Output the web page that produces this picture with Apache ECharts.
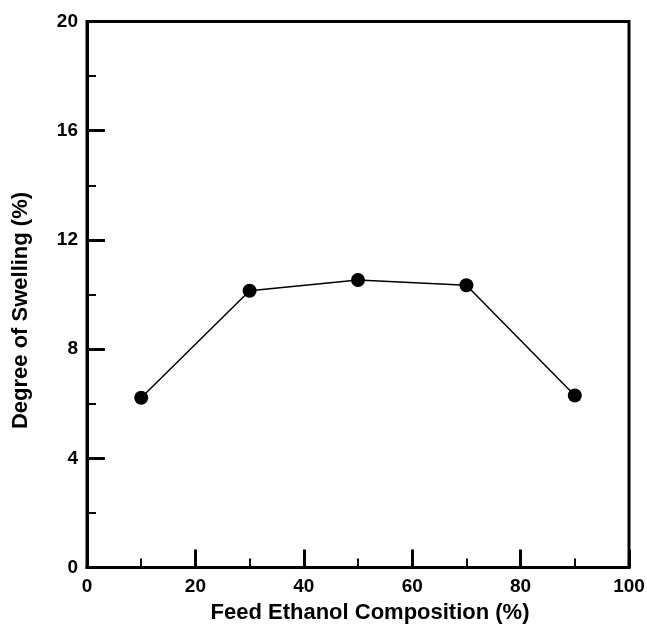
<!DOCTYPE html>
<html>
<head>
<meta charset="utf-8">
<script src="https://cdn.jsdelivr.net/npm/echarts@6/dist/echarts.min.js"></script>
<style>
html,body{margin:0;padding:0;background:#fff;}
#c{width:647px;height:627px;}
</style>
</head>
<body>
<div id="c"></div>
<script>
const feedEthanol = [10, 30, 50, 70, 90];
const swelling = [6.22, 10.14, 10.53, 10.34, 6.3];
const xTitle = 'Feed Ethanol Composition (%)';
const yTitle = 'Degree of Swelling (%)';

const chart = echarts.init(document.getElementById('c'), null, {renderer: 'canvas'});
const font = 'Liberation Sans, Arial, sans-serif';
const axisCommon = {
  axisLine: {show: true, onZero: false, lineStyle: {color: '#000', width: 3}},
  axisTick: {show: true, inside: true, length: 18, lineStyle: {color: '#000', width: 3}},
  minorTick: {show: true, splitNumber: 2, length: 9, lineStyle: {color: '#000', width: 2}},
  splitLine: {show: false},
  axisLabel: {color: '#000', fontFamily: font, fontWeight: 'bold', fontSize: 19}
};
chart.setOption({
  animation: false,
  backgroundColor: '#fff',
  grid: {left: 87, right: 18, top: 21.5, bottom: 59.5, show: true, borderColor: '#000', borderWidth: 3, containLabel: false, outerBoundsMode: 'none'},
  xAxis: Object.assign({}, axisCommon, {
    type: 'value', min: 0, max: 100, interval: 20,
    axisLabel: Object.assign({}, axisCommon.axisLabel, {margin: 10}),
    name: xTitle, nameLocation: 'middle', nameGap: 34,
    nameTextStyle: {color: '#000', fontFamily: font, fontWeight: 'bold', fontSize: 22, padding: [0, 0, 0, 24]}
  }),
  yAxis: Object.assign({}, axisCommon, {
    type: 'value', min: 0, max: 20, interval: 4,
    axisLabel: Object.assign({}, axisCommon.axisLabel, {margin: 9}),
    name: yTitle, nameLocation: 'middle', nameGap: 55,
    nameTextStyle: {color: '#000', fontFamily: font, fontWeight: 'bold', fontSize: 22, padding: [0, 32, 0, 0]}
  }),
  series: [{
    type: 'line',
    data: feedEthanol.map((x, i) => [x, swelling[i]]),
    symbol: 'circle', symbolSize: 14,
    itemStyle: {color: '#000'},
    lineStyle: {color: '#000', width: 1.5}
  }]
});
</script>
</body>
</html>
